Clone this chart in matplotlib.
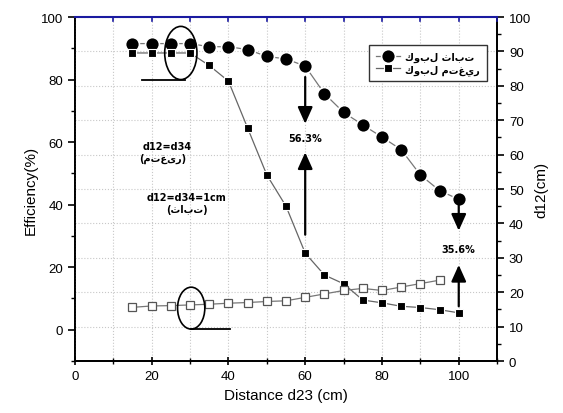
import matplotlib
matplotlib.use("Agg")
import matplotlib.pyplot as plt
from matplotlib.patches import Ellipse
from matplotlib.ticker import MultipleLocator

plt.rcParams['font.family'] = ['Liberation Sans', 'DejaVu Sans']

distance = [15, 20, 25, 30, 35, 40, 45, 50, 55, 60, 65, 70, 75, 80, 85, 90, 95, 100]
eff_fixed = [91.5, 91.5, 91.5, 91.5, 90.5, 90.5, 89.6, 87.4, 86.6, 84.3, 75.5, 69.5, 65.5, 61.6, 57.6, 49.5, 44.5, 41.7]
eff_variable = [88.5, 88.5, 88.5, 88.5, 84.5, 79.5, 64.5, 49.5, 39.5, 24.5, 17.5, 14.7, 9.5, 8.6, 7.5, 7.1, 6.4, 5.4]
dist_d12 = [15, 20, 25, 30, 35, 40, 45, 50, 55, 60, 65, 70, 75, 80, 85, 90, 95]
d12_values = [15.6, 16.0, 16.1, 16.3, 16.5, 16.8, 17.0, 17.3, 17.5, 18.5, 19.5, 20.5, 21.1, 20.5, 21.5, 22.5, 23.5]

label_fixed = "كوبل ثابت"
label_variable = "كوبل متغير"

fig = plt.figure(figsize=(5.63, 4.14), dpi=100)
ax = fig.add_axes([0.133, 0.1256, 0.75, 0.8309])
ax2 = ax.twinx()

ax.set_xlim(0, 110)
ax.set_ylim(-10, 100)
ax2.set_ylim(0, 100)

ax.xaxis.set_major_locator(MultipleLocator(20))
ax.xaxis.set_minor_locator(MultipleLocator(10))
ax.yaxis.set_major_locator(MultipleLocator(20))
ax.yaxis.set_minor_locator(MultipleLocator(10))
ax2.yaxis.set_major_locator(MultipleLocator(10))
ax2.yaxis.set_minor_locator(MultipleLocator(5))
ax.grid(True, which='both', axis='x', color='#c8c8c8', linestyle=':', linewidth=0.8)
ax2.grid(True, which='major', axis='y', color='#c8c8c8', linestyle=':', linewidth=0.8)
ax2.set_zorder(ax.get_zorder() - 1)
ax.patch.set_visible(False)

l1, = ax.plot(distance, eff_fixed, color='#777777', linewidth=0.9, marker='o', markersize=10,
              markerfacecolor='black', markeredgecolor='white', markeredgewidth=1.2, label=label_fixed, zorder=4)
l2, = ax.plot(distance, eff_variable, color='#666666', linewidth=0.9, marker='s', markersize=5.5,
              markerfacecolor='black', markeredgecolor='white', markeredgewidth=0.8, label=label_variable, zorder=4)
ax.plot(dist_d12, [v * 1.1 - 10 for v in d12_values], color='#777777', linewidth=0.9, marker='s', markersize=6,
        markerfacecolor='white', markeredgecolor='#555555', markeredgewidth=0.9, zorder=4)

# ellipses and lines
ax.add_patch(Ellipse((27.6, 88.5), 8.4, 17.0, fill=False, edgecolor='black', linewidth=1.2, zorder=5))
ax.plot([17.4, 28.6], [80.0, 80.0], color='black', linewidth=1.3, zorder=5)
ax.add_patch(Ellipse((30.3, 6.9), 7.1, 13.4, fill=False, edgecolor='black', linewidth=1.2, zorder=5))
ax.plot([30.3, 40.4], [0.2, 0.2], color='black', linewidth=1.3, zorder=5)

# arrows
akw = dict(arrowstyle='-|>,head_width=0.45,head_length=1.0', color='black', lw=1.6)
ax.annotate('', xy=(60, 65), xytext=(60, 81.7), arrowprops=akw, zorder=6)
ax.annotate('', xy=(60, 57.6), xytext=(60, 29.5), arrowprops=akw, zorder=6)
ax.annotate('', xy=(100, 30.8), xytext=(100, 40.9), arrowprops=akw, zorder=6)
ax.annotate('', xy=(100, 21.6), xytext=(100, 6.6), arrowprops=akw, zorder=6)
ax.text(60, 61.2, "56.3%", ha='center', va='center', fontsize=7, fontweight='bold', family=['DejaVu Sans'])
ax.text(100, 25.9, "35.6%", ha='center', va='center', fontsize=7, fontweight='bold', family=['DejaVu Sans'])

ax.text(17.7, 58.8, "d12=d34", ha='left', va='center', fontsize=7, fontweight='bold', family=['DejaVu Sans'])
ax.text(23, 55.0, "(متغیر)", ha='center', va='center', fontsize=7, fontweight='bold', family=['DejaVu Sans'])
ax.text(29.1, 42.5, "d12=d34=1cm", ha='center', va='center', fontsize=7, fontweight='bold', family=['DejaVu Sans'])
ax.text(29.1, 38.6, "(ثابت)", ha='center', va='center', fontsize=7, fontweight='bold', family=['DejaVu Sans'])

# legend
leg = ax.legend(handles=[l1, l2], loc='upper right', bbox_to_anchor=(0.976, 0.919), frameon=True, fancybox=False,
                edgecolor='#333333', handlelength=2.4, handletextpad=0.6, borderpad=0.7, labelspacing=0.2,
                borderaxespad=0.0, framealpha=1.0,
                prop={'family': ['DejaVu Sans'], 'weight': 'bold', 'size': 7})
leg.get_frame().set_linewidth(1.0)
leg.set_zorder(10)

# spines and ticks
for s in ['left', 'bottom', 'right']:
    ax.spines[s].set_linewidth(1.3)
    ax2.spines[s].set_linewidth(1.3)
ax.spines['top'].set_color('#1a1aa0')
ax.spines['top'].set_linewidth(1.5)
ax2.spines['top'].set_visible(False)

ax.tick_params(axis='x', which='major', direction='inout', length=6, width=1.2, labelsize=9.5, top=False)
ax.tick_params(axis='x', which='minor', direction='inout', length=4, width=1.0, top=False)
ax.tick_params(axis='y', which='major', direction='out', length=5, width=1.2, labelsize=9.5)
ax.tick_params(axis='y', which='minor', direction='out', length=3, width=1.0)
ax2.tick_params(axis='y', which='major', direction='out', length=5, width=1.2, labelsize=9.5)
ax2.tick_params(axis='y', which='minor', direction='out', length=3, width=1.0)

# top axis blue inward ticks
for xv in range(10, 111, 10):
    ax.plot([xv, xv], [100, 98.8], color='#1a1aa0', linewidth=1.2, clip_on=False, zorder=6)

ax.set_xlabel("Distance d23 (cm)", fontsize=11)
ax.set_ylabel("Efficiency(%)", fontsize=11, labelpad=2)
ax2.set_ylabel("d12(cm)", fontsize=11, labelpad=2)

fig.savefig("out.png", dpi=100)
